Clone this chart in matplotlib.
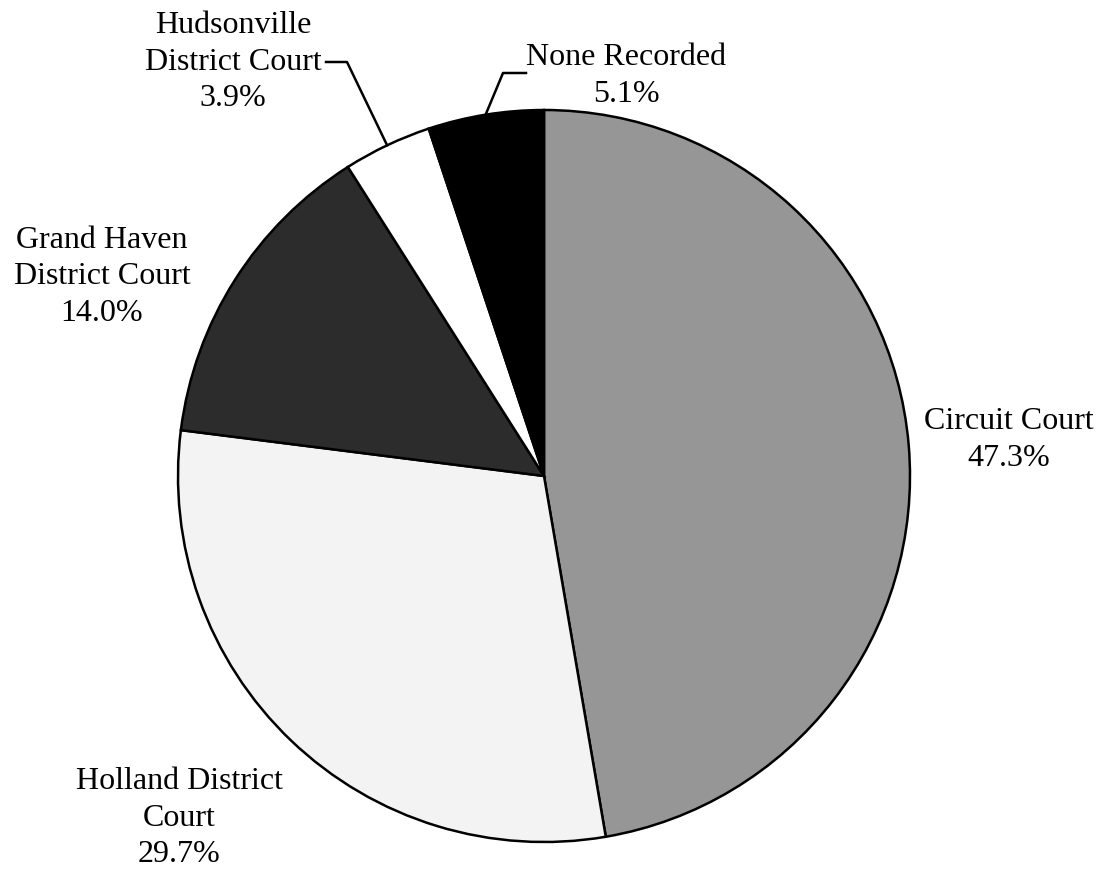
import numpy as np
import matplotlib
matplotlib.use("Agg")
import matplotlib.pyplot as plt

# --------------------------------------------------
# Data
# --------------------------------------------------
courts = ["Circuit Court", "Holland District\nCourt", "Grand Haven\nDistrict Court",
          "Hudsonville\nDistrict Court", "None Recorded"]
shares = [47.3, 29.7, 14.0, 3.9, 5.1]
colors = ["#969696", "#f3f3f3", "#2c2c2c", "#ffffff", "#000000"]

plt.rcParams["font.family"] = ["Liberation Serif", "DejaVu Serif"]

W, H = 1102, 876
fig = plt.figure(figsize=(W / 100, H / 100), dpi=100)
ax = fig.add_axes([0, 0, 1, 1])

cx, cy, r = 544, H - 476, 366

wedges, _ = ax.pie(
    shares,
    colors=colors,
    startangle=90,
    counterclock=False,
    center=(cx, cy),
    radius=r,
    wedgeprops=dict(edgecolor="black", linewidth=1.8),
    frame=True,
)
ax.set_xlim(0, W)
ax.set_ylim(0, H)
ax.set_aspect("equal")
ax.axis("off")

fs = 23
ls = 1.33

def label(i):
    return f"{courts[i]}\n{shares[i]:.1f}%"

# Circuit Court
ax.text(1009, H - 440, label(0), ha="center", va="center", fontsize=fs, linespacing=ls)
# Holland
ax.text(179, H - 818, label(1), ha="center", va="center", fontsize=fs, linespacing=ls)
# Grand Haven
ax.text(102, H - 277, label(2), ha="center", va="center", fontsize=fs, linespacing=ls)


def edge_point(w):
    ang = np.deg2rad((w.theta1 + w.theta2) / 2)
    return cx + r * np.cos(ang), cy + r * np.sin(ang)

# Hudsonville with leader
ex, ey = edge_point(wedges[3])
ax.text(233, H - 62, label(3), ha="center", va="center", fontsize=fs, linespacing=ls)
ax.plot([326, 347, ex], [H - 62, H - 62, ey], color="black", lw=1.8)

# None Recorded with leader
ex, ey = edge_point(wedges[4])
ax.text(626, H - 76, label(4), ha="center", va="center", fontsize=fs, linespacing=ls)
ax.plot([ex, 503, 526], [ey, H - 73, H - 73], color="black", lw=1.8)

fig.savefig("out.png", dpi=100)
